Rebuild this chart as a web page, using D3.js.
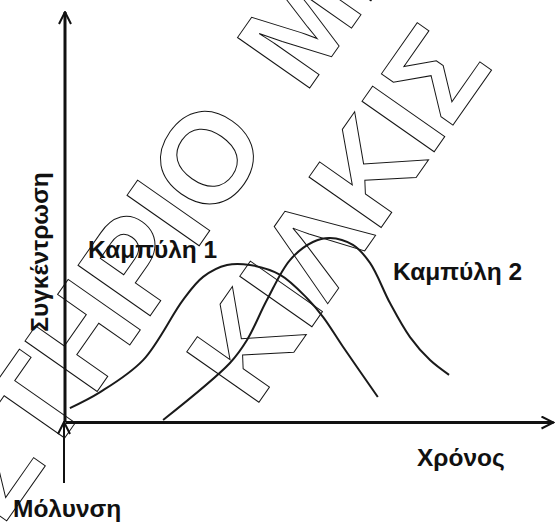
<!DOCTYPE html>
<html>
<head>
<meta charset="utf-8">
<script src="https://cdn.jsdelivr.net/npm/d3@7"></script>
<style>
    body { margin: 0; background: #fff; }
    #chart-area { width: 556px; height: 526px; }
    .label { font-family: "Liberation Sans", Arial, sans-serif; font-weight: bold; font-size: 24.5px; fill: #111; }
    .watermark { font-family: "Liberation Sans", Arial, sans-serif; font-weight: bold; font-size: 128px; fill: none; stroke: #111; stroke-width: 1; word-spacing: 22px; }
</style>
</head>
<body>
<div id="chart-area"></div>
<script>

// time (x) and concentration (y), both on a 0-100 scale
let curve1Time = [1.0, 7.2, 16.0, 24.2, 28.3, 33.2, 37.9, 44.1, 49.6, 52.9, 57.0, 64.1];
let curve1Conc = [3.4, 7.3, 15.1, 29.8, 35.4, 38.3, 38.3, 35.9, 30.2, 25.6, 18.3, 6.1];

let curve2Time = [20.1, 33.8, 37.3, 41.4, 46.1, 50.8, 54.3, 59.0, 62.5, 66.6, 70.7, 74.8, 78.7];
let curve2Conc = [0.5, 14.4, 20.0, 29.8, 39.5, 43.9, 44.9, 43.2, 38.8, 29.0, 20.7, 15.1, 11.5];

let curveNames = ["Καμπύλη 1", "Καμπύλη 2"];
let xLabel = "Χρόνος";
let yLabel = "Συγκέντρωση";
let startLabel = "Μόλυνση";
let watermarkLines = ["ΕΡΓΑΣΤΗΡΙΟ ΜΙΚΡΟ", "ΚΙΛΚΙΣ"];


let width = 556, height = 526;

let svg = d3.select("#chart-area").append("svg")
    .attr("width", width)
    .attr("height", height);

// Scales (the axes run from origin to the arrow tips)
let x = d3.scaleLinear().domain([0, 100]).range([65, 553]);
let y = d3.scaleLinear().domain([0, 100]).range([422, 12]);


// Watermark: outlined letters, rotated
function watermark(line, charIndex, cx, cy) {
    let g = svg.append("g")
        .attr("transform", "translate(" + cx + "," + cy + ") rotate(-55)");
    let t = g.append("text")
        .attr("class", "watermark")
        .attr("x", 0)
        .attr("y", 128 * 0.358)
        .text(line);
    let ext = t.node().getExtentOfChar(charIndex);
    t.attr("x", -(ext.x + ext.width / 2));
}
watermark(watermarkLines[0], 8, 167, 212);
watermark(watermarkLines[1], 4, 402, 118);


// Arrowhead marker (open chevron)
let defs = svg.append("defs");
defs.append("marker")
    .attr("id", "arrow")
    .attr("viewBox", "0 0 14 14")
    .attr("refX", 13)
    .attr("refY", 7)
    .attr("markerWidth", 14)
    .attr("markerHeight", 14)
    .attr("markerUnits", "userSpaceOnUse")
    .attr("orient", "auto")
    .append("path")
    .attr("d", "M1,1 L13,7 L1,13")
    .attr("fill", "none")
    .attr("stroke", "#111")
    .attr("stroke-width", 2);

// Axes, no ticks
let xAxis = d3.axisBottom(x).ticks(0).tickSizeOuter(0);
let yAxis = d3.axisLeft(y).ticks(0).tickSizeOuter(0);

svg.append("g")
    .attr("class", "x-axis")
    .attr("transform", "translate(0," + y(0) + ")")
    .call(xAxis);

svg.append("g")
    .attr("class", "y-axis")
    .attr("transform", "translate(" + x(0) + ",0)")
    .call(yAxis);

svg.selectAll(".domain")
    .attr("stroke", "#111")
    .attr("stroke-width", 3)
    .attr("marker-end", "url(#arrow)");

// y axis path goes from bottom to top so the marker ends at the top
svg.select(".y-axis .domain")
    .attr("d", "M0," + y(0) + "V" + y(0.2) + "V" + y(100));

// pollution arrow, from below up to the origin
svg.append("line")
    .attr("x1", x(0) - 1)
    .attr("x2", x(0) - 1)
    .attr("y1", y(0) + 61)
    .attr("y2", y(0))
    .attr("stroke", "#111")
    .attr("stroke-width", 2)
    .attr("marker-end", "url(#arrow)");


// Curves
let line = d3.line()
    .curve(d3.curveCatmullRom)
    .x(d => x(d.t))
    .y(d => y(d.c));

let curves = [
    curve1Time.map((t, i) => ({t: t, c: curve1Conc[i]})),
    curve2Time.map((t, i) => ({t: t, c: curve2Conc[i]}))
];

svg.selectAll(".curve")
    .data(curves)
    .enter().append("path")
    .attr("class", "curve")
    .attr("d", line)
    .attr("fill", "none")
    .attr("stroke", "#1a1a1a")
    .attr("stroke-width", 2);


// Labels
svg.append("text").attr("class", "label")
    .attr("x", 88).attr("y", 258)
    .text(curveNames[0]);

svg.append("text").attr("class", "label")
    .attr("x", 393).attr("y", 280)
    .text(curveNames[1]);

svg.append("text").attr("class", "label")
    .attr("x", 417).attr("y", 466)
    .text(xLabel);

svg.append("text").attr("class", "label")
    .attr("x", 13).attr("y", 517)
    .text(startLabel);

svg.append("text").attr("class", "label")
    .attr("transform", "translate(48,252) rotate(-90)")
    .attr("text-anchor", "middle")
    .text(yLabel);

</script>
</body>
</html>
